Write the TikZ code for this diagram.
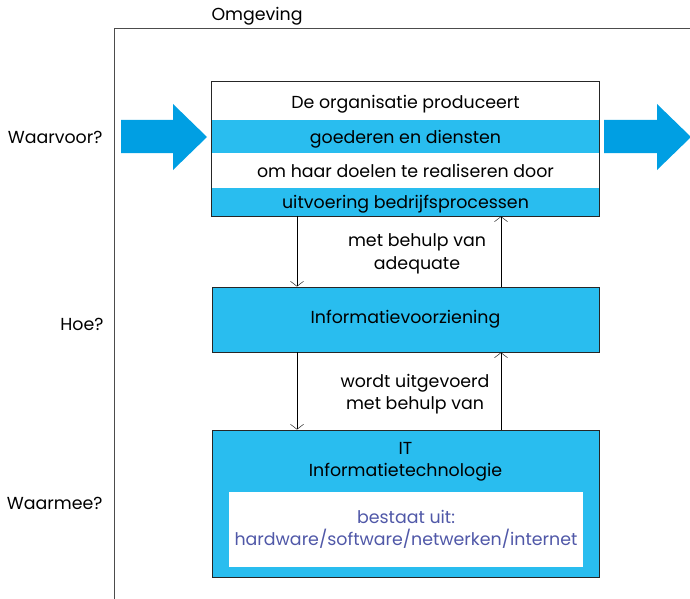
\documentclass[tikz,border=0pt]{standalone}
\usepackage{fontspec}
\setmainfont{Poppins}
\usetikzlibrary{positioning, arrows.meta, calc}
\definecolor{boxblue}{RGB}{41, 189, 239}
\definecolor{arrowblue}{RGB}{0, 159, 227}
\definecolor{textpurple}{RGB}{80, 88, 168}
\newcommand{\txt}{\fontsize{17.4}{22.5}\selectfont}

\tikzset{
 row/.style={minimum width=387pt, inner sep=0pt, text height=14pt, text depth=1pt, font=\txt},
 bluerow/.style={row, fill=boxblue},
 block/.style={draw=black!85, line width=0.9pt, fill=boxblue, minimum width=387pt, inner sep=0pt, font=\txt},
 flow/.style={-{Straight Barb[length=5pt, width=13pt]}, thin},
 ask/.style={anchor=east, font=\txt},
 note/.style={align=center, font=\txt}
}

\begin{document}
\begin{tikzpicture}[x=1pt, y=-1pt]
 \useasboundingbox (0,0) rectangle (690,599);
 \draw[black!70, line width=1pt] (114,599) -- (114,29) -- (690,29);
 \node[anchor=west, font=\txt] (omg) at (208,16) {Omgeving};

 % top block
 \node[row, minimum height=38pt, text height=16pt] (r1) at (405.5,101) {De organisatie produceert};
 \node[bluerow, minimum height=33pt, below=0pt of r1] (r2) {goederen en diensten};
 \node[row, minimum height=34pt, below=0pt of r2] (r3) {om haar doelen te realiseren door};
 \node[bluerow, minimum height=28pt, below=0pt of r3] (r4) {uitvoering bedrijfsprocessen};
 \draw[black!85, line width=0.9pt] (r1.north west) rectangle (r4.south east);

 \node[block, minimum height=65pt] (info) at (405.5,319.5) {Informatievoorziening};
 \node[block, minimum height=147pt] (it) at (405.5,503.5) {};
 \node[note, anchor=north] (ittitle) at (it.north) [yshift=-9pt] {IT\\Informatietechnologie};
 \node[fill=white, minimum width=354pt, minimum height=75pt, align=center, text=textpurple, font=\txt]
  (parts) at (406,529.5) {bestaat uit:\\hardware/software/netwerken/internet};

 % big arrows
 \fill[arrowblue] (121,120) -- (173,120) -- (173,104) -- (207,137) -- (173,170) -- (173,153) -- (121,153) -- cycle;
 \fill[arrowblue] (604,120) -- (657,120) -- (657,104) -- (691,137) -- (657,170) -- (657,153) -- (604,153) -- cycle;

 \draw[flow] ([xshift=-108.5pt]r4.south) -- ([xshift=-108.5pt]info.north);
 \draw[flow] ([xshift=95.5pt]info.north) -- ([xshift=95.5pt]r4.south);
 \draw[flow] ([xshift=-108.5pt]info.south) -- ([xshift=-108.5pt]it.north);
 \draw[flow] ([xshift=95.5pt]it.north) -- ([xshift=95.5pt]info.south);

 \node[note] (adeq) at (417,254) {met behulp van\\adequate};
 \node[note] (exec) at (415,394) {wordt uitgevoerd\\met behulp van};

 \node[ask] (why) at (106,137) {Waarvoor?};
 \node[ask] (how) at (107,324) {Hoe?};
 \node[ask] (what) at (106,503) {Waarmee?};
\end{tikzpicture}
\end{document}
